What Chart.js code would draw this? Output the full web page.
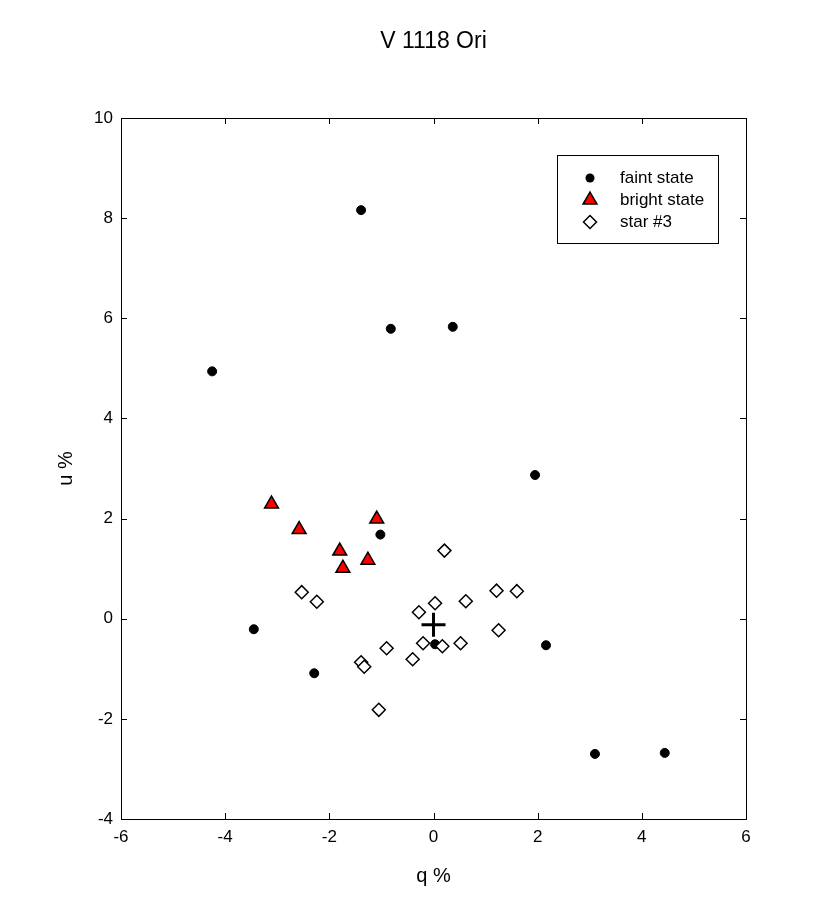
<!DOCTYPE html>
<html>
<head>
<meta charset="utf-8">
<title>V 1118 Ori</title>
<script src="https://cdn.jsdelivr.net/npm/chart.js@4"></script>
<style>
  body { margin: 0; background: #fff; }
  canvas { display: block; }
</style>
</head>
<body>
<canvas id="qu" width="830" height="906"></canvas>
<script>
// polarimetry values (q %, u %)
const faintQ = [-1.39, -0.82, 0.37, -4.25, 1.95, -1.02, -3.45, -2.29, 0.03, 2.16, 3.10, 4.44];
const faintU = [8.16, 5.79, 5.83, 4.94, 2.87, 1.68, -0.21, -1.09, -0.51, -0.53, -2.70, -2.68];

const brightQ = [-3.11, -2.58, -1.09, -1.80, -1.26, -1.74];
const brightU = [2.29, 1.78, 1.99, 1.35, 1.17, 1.01];

const starQ = [0.21, -2.53, -2.24, 0.03, -0.28, 0.62, 1.21, 1.60, 1.25, -0.20, 0.17, 0.52, -0.90, -0.40, -1.39, -1.33, -1.05];
const starU = [1.36, 0.53, 0.34, 0.31, 0.13, 0.35, 0.56, 0.55, -0.23, -0.49, -0.55, -0.49, -0.59, -0.81, -0.87, -0.96, -1.82];

const meanQ = [0.0];
const meanU = [-0.12];

const xTicks = [-6, -4, -2, 0, 2, 4, 6];
const yTicks = [-4, -2, 0, 2, 4, 6, 8, 10];

const FONT = '"Liberation Sans", Arial, Helvetica, sans-serif';

function pts(qs, us) {
    return qs.map((q, i) => ({ x: q, y: us[i] }));
}

// frame, inward ticks, title, axis titles and legend
const decor = {
    id: 'decor',
    afterDraw(chart) {
        const ctx = chart.ctx;
        const a = chart.chartArea;
        const xs = chart.scales.x, ys = chart.scales.y;
        ctx.save();
        ctx.strokeStyle = '#000';
        ctx.lineWidth = 1;
        ctx.strokeRect(a.left + 0.5, a.top + 0.5, a.right - a.left, a.bottom - a.top);

        ctx.beginPath();
        xTicks.forEach(v => {
            const px = Math.round(xs.getPixelForValue(v)) + 0.5;
            ctx.moveTo(px, a.bottom); ctx.lineTo(px, a.bottom - 6);
            ctx.moveTo(px, a.top); ctx.lineTo(px, a.top + 6);
        });
        yTicks.forEach(v => {
            const py = Math.round(ys.getPixelForValue(v)) + 0.5;
            ctx.moveTo(a.left, py); ctx.lineTo(a.left + 6, py);
            ctx.moveTo(a.right, py); ctx.lineTo(a.right - 6, py);
        });
        ctx.stroke();

        ctx.fillStyle = '#000';
        ctx.textAlign = 'center';
        ctx.textBaseline = 'middle';
        const cx = (a.left + a.right) / 2;
        ctx.font = '23px ' + FONT;
        ctx.fillText('V 1118 Ori', cx, 42);
        ctx.font = '20px ' + FONT;
        ctx.fillText('q %', cx, 876);
        ctx.save();
        ctx.translate(66, (a.top + a.bottom) / 2);
        ctx.rotate(-Math.PI / 2);
        ctx.fillText('u %', 0, 0);
        ctx.restore();

        // legend box
        ctx.lineWidth = 1;
        ctx.strokeRect(557.5, 155.5, 161, 88);
        ctx.font = '17px ' + FONT;
        ctx.textAlign = 'left';
        const symX = 590, txtX = 620;
        // faint
        ctx.beginPath();
        ctx.arc(symX, 178, 4.5, 0, Math.PI * 2);
        ctx.fill();
        ctx.fillText('faint state', txtX, 178);
        // bright
        const r = 8, ty = 200;
        ctx.beginPath();
        ctx.moveTo(symX, ty - r);
        ctx.lineTo(symX + r * Math.sqrt(3) / 2, ty + r / 2);
        ctx.lineTo(symX - r * Math.sqrt(3) / 2, ty + r / 2);
        ctx.closePath();
        ctx.fillStyle = '#ff0000';
        ctx.fill();
        ctx.lineWidth = 1.5;
        ctx.stroke();
        ctx.fillStyle = '#000';
        ctx.fillText('bright state', txtX, 200);
        // star #3
        const d = 6.5, dy = 222;
        ctx.beginPath();
        ctx.moveTo(symX, dy - d); ctx.lineTo(symX + d, dy);
        ctx.lineTo(symX, dy + d); ctx.lineTo(symX - d, dy);
        ctx.closePath();
        ctx.fillStyle = '#fff';
        ctx.fill();
        ctx.stroke();
        ctx.fillStyle = '#000';
        ctx.fillText('star #3', txtX, 222);
        ctx.restore();
    }
};

new Chart(document.getElementById('qu').getContext('2d'), {
    type: 'scatter',
    data: {
        datasets: [
            {
                label: 'star #3',
                data: pts(starQ, starU),
                pointStyle: 'rectRot',
                pointRadius: 6.5,
                backgroundColor: '#ffffff',
                borderColor: '#000000',
                borderWidth: 1.5
            },
            {
                label: 'faint state',
                data: pts(faintQ, faintU),
                pointStyle: 'circle',
                pointRadius: 4.5,
                backgroundColor: '#000000',
                borderColor: '#000000',
                borderWidth: 1
            },
            {
                label: 'bright state',
                data: pts(brightQ, brightU),
                pointStyle: 'triangle',
                pointRadius: 8,
                backgroundColor: '#ff0000',
                borderColor: '#000000',
                borderWidth: 1.5
            },
            {
                label: 'mean',
                data: pts(meanQ, meanU),
                pointStyle: 'cross',
                pointRadius: 12,
                borderColor: '#000000',
                borderWidth: 3
            }
        ]
    },
    options: {
        responsive: false,
        animation: false,
        layout: { padding: { top: 118, right: 84, left: 0, bottom: 0 } },
        plugins: {
            legend: { display: false },
            title: { display: false },
            tooltip: { enabled: false }
        },
        scales: {
            x: {
                type: 'linear',
                min: -6,
                max: 6,
                afterFit: s => { s.height = 87; },
                afterBuildTicks: s => { s.ticks = xTicks.map(v => ({ value: v })); },
                grid: { display: false, drawTicks: false },
                border: { display: false },
                ticks: { color: '#000', padding: 8, font: { family: FONT, size: 17 }, maxRotation: 0 }
            },
            y: {
                type: 'linear',
                min: -4,
                max: 10,
                afterFit: s => { s.width = 121; },
                afterBuildTicks: s => { s.ticks = yTicks.map(v => ({ value: v })); },
                grid: { display: false, drawTicks: false },
                border: { display: false },
                ticks: { color: '#000', padding: 8, font: { family: FONT, size: 17 } }
            }
        }
    },
    plugins: [decor]
});
</script>
</body>
</html>
